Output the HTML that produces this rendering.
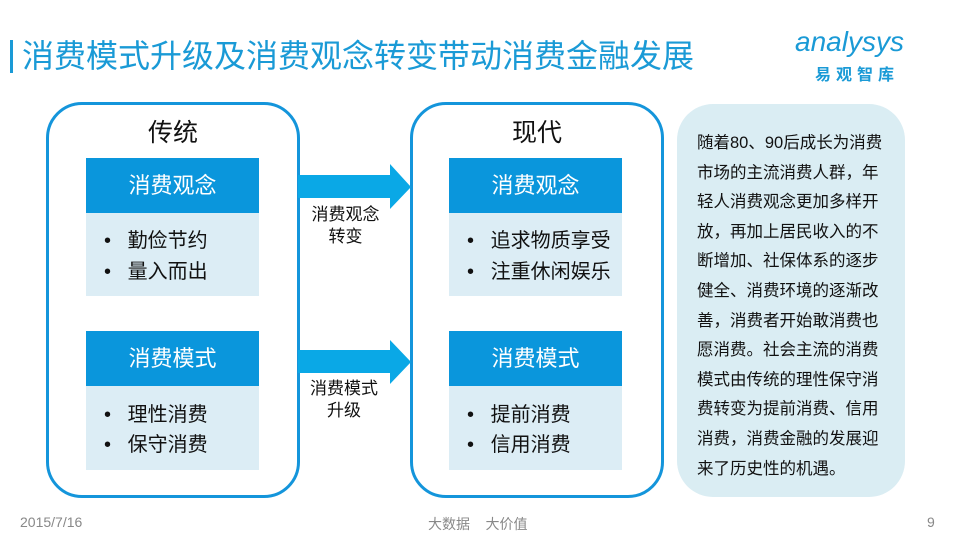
<!DOCTYPE html>
<html><head><meta charset="utf-8"><style>
body{margin:0;width:960px;height:540px;background:#fff;position:relative;overflow:hidden;font-family:"Liberation Sans","Noto Sans CJK SC",sans-serif;}
.a{position:absolute}
.box{position:absolute;border:3px solid #1495db;border-radius:36px;background:#fff;box-sizing:border-box}
.hd{position:absolute;background:#0a96dc;color:#fff;font-size:22px;text-align:center;line-height:55px}
.bd{position:absolute;background:#dcedf5;font-size:20px;color:#111}
.bd div{position:absolute;left:18px}
.t{position:absolute;font-size:25px;color:#111;text-align:center}
</style></head><body>
<div class="a" style="left:10px;top:40px;width:3px;height:33px;background:#1a9ad6"></div>
<div class="a" style="left:22px;top:36px;font-size:32px;line-height:40px;color:#1a9ad6;white-space:nowrap">消费模式升级及消费观念转变带动消费金融发展</div>
<div class="a" style="left:795px;top:26px;font-size:28px;color:#1a9ad6;font-style:italic;white-space:nowrap">analysys</div>
<div class="a" style="left:815px;top:61px;font-size:16px;color:#1a9ad6;font-weight:bold;letter-spacing:5px;white-space:nowrap">易观智库</div>

<div class="box" style="left:46px;top:102px;width:254px;height:396px"></div>
<div class="box" style="left:410px;top:102px;width:254px;height:396px"></div>
<div class="t" style="left:46px;top:113px;width:254px">传统</div>
<div class="t" style="left:410px;top:113px;width:254px">现代</div>

<div class="hd" style="left:86px;top:158px;width:173px;height:55px">消费观念</div>
<div class="bd" style="left:86px;top:213px;width:173px;height:83px"><div style="top:11px">•&nbsp;&nbsp;&nbsp;勤俭节约</div><div style="top:42px">•&nbsp;&nbsp;&nbsp;量入而出</div></div>
<div class="hd" style="left:86px;top:331px;width:173px;height:55px">消费模式</div>
<div class="bd" style="left:86px;top:386px;width:173px;height:84px"><div style="top:12px">•&nbsp;&nbsp;&nbsp;理性消费</div><div style="top:42px">•&nbsp;&nbsp;&nbsp;保守消费</div></div>

<div class="hd" style="left:449px;top:158px;width:173px;height:55px">消费观念</div>
<div class="bd" style="left:449px;top:213px;width:173px;height:83px"><div style="top:11px">•&nbsp;&nbsp;&nbsp;追求物质享受</div><div style="top:42px">•&nbsp;&nbsp;&nbsp;注重休闲娱乐</div></div>
<div class="hd" style="left:449px;top:331px;width:173px;height:55px">消费模式</div>
<div class="bd" style="left:449px;top:386px;width:173px;height:84px"><div style="top:12px">•&nbsp;&nbsp;&nbsp;提前消费</div><div style="top:42px">•&nbsp;&nbsp;&nbsp;信用消费</div></div>

<svg class="a" style="left:0;top:0" width="960" height="540">
<polygon points="298,175 390,175 390,164 411,187 390,209 390,198 298,198" fill="#0aa8e6"/>
<polygon points="298,350 390,350 390,340 411,362 390,384 390,373 298,373" fill="#0aa8e6"/>
</svg>
<div class="a" style="left:298px;top:204px;width:95px;text-align:center;font-size:17px;line-height:22px;color:#111">消费观念<br>转变</div>
<div class="a" style="left:298px;top:378px;width:92px;text-align:center;font-size:17px;line-height:22px;color:#111">消费模式<br>升级</div>

<div class="a" style="left:677px;top:104px;width:228px;height:393px;background:#daedf3;border-radius:36px"></div>
<div class="a" style="left:697px;top:129px;font-size:16.5px;line-height:29.6px;color:#111;white-space:nowrap">随着80、90后成长为消费<br>市场的主流消费人群，年<br>轻人消费观念更加多样开<br>放，再加上居民收入的不<br>断增加、社保体系的逐步<br>健全、消费环境的逐渐改<br>善，消费者开始敢消费也<br>愿消费。社会主流的消费<br>模式由传统的理性保守消<br>费转变为提前消费、信用<br>消费，消费金融的发展迎<br>来了历史性的机遇。</div>

<div class="a" style="left:20px;top:514px;font-size:14px;color:#888">2015/7/16</div>
<div class="a" style="left:428px;top:514px;font-size:14px;color:#888">大数据&nbsp;&nbsp;&nbsp;&nbsp;大价值</div>
<div class="a" style="left:927px;top:514px;font-size:14px;color:#888">9</div>
</body></html>
